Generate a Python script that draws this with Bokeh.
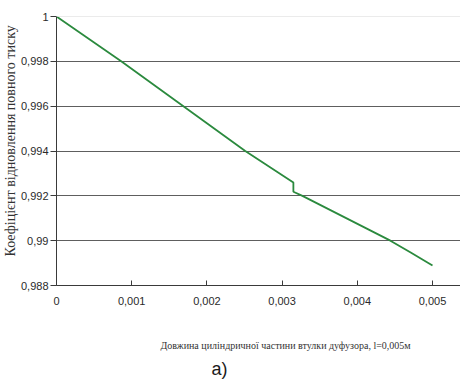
from bokeh.plotting import figure
from bokeh.models import Range1d, FixedTicker, CustomJSTickFormatter, Span, Title
from bokeh.embed import file_html
from bokeh.resources import INLINE

# Total pressure recovery coefficient along the cylindrical part of the diffuser hub
length_m = [0.0, 0.00086, 0.00251, 0.00315, 0.00315, 0.00327, 0.00444, 0.00471, 0.0050]
recovery = [1.0, 0.998, 0.994, 0.99259, 0.99218, 0.992, 0.990, 0.98947, 0.98889]

x_ticks = [0.0, 0.001, 0.002, 0.003, 0.004, 0.005]
y_ticks = [0.988, 0.990, 0.992, 0.994, 0.996, 0.998, 1.0]

x_title = "Довжина циліндричної частини втулки дуфузора, l=0,005м"
y_title = "Коефіцієнт відновлення повного тиску"
caption = "а)"

W, H = 460, 380
LEFT, TOP, BOTTOM = 56, 16, 94

p = figure(width=W, height=H, output_backend="svg", toolbar_location=None,
           x_range=Range1d(0.0, 0.0053723), y_range=Range1d(0.988, 1.0),
           min_border_left=LEFT, min_border_right=0,
           min_border_top=TOP, min_border_bottom=BOTTOM)
p.outline_line_color = None
p.background_fill_color = "white"
p.border_fill_color = "white"

fmt = CustomJSTickFormatter(code="""
    return tick.toFixed(3).replace(/0+$/, '').replace(/\\.$/, '').replace('.', ',');
""")

tick_font = "'Liberation Sans', sans-serif"

p.xaxis.ticker = FixedTicker(ticks=x_ticks)
p.xaxis.formatter = fmt
p.xaxis.major_tick_in = 5
p.xaxis.major_tick_out = 0
p.xaxis.minor_tick_line_color = None
p.xaxis.major_label_standoff = 11
p.xaxis.axis_line_color = "#3a3a3a"
p.xaxis.major_tick_line_color = "#3a3a3a"
# empty spacer label keeps room between the tick labels and the axis title
p.xaxis.axis_label = " "
p.xaxis.axis_label_standoff = 12
p.xaxis.axis_label_text_font_size = "10px"

p.yaxis.ticker = FixedTicker(ticks=y_ticks)
p.yaxis.formatter = fmt
p.yaxis.major_tick_in = 0
p.yaxis.major_tick_out = 6
p.yaxis.minor_tick_line_color = None
p.yaxis.major_label_standoff = 2
p.yaxis.axis_line_color = "#3a3a3a"
p.yaxis.major_tick_line_color = "#3a3a3a"

for ax in (p.xaxis, p.yaxis):
    ax.major_label_text_font = tick_font
    ax.major_label_text_font_size = "11px"
    ax.major_label_text_color = "#2a2a2a"

p.xgrid.grid_line_color = None
p.ygrid.ticker = FixedTicker(ticks=y_ticks[:-1])
p.ygrid.grid_line_color = "#5e5e5e"
p.ygrid.grid_line_width = 1

p.add_layout(Span(location=y_ticks[-1], dimension="width",
                  line_color="#d8d8d8", line_width=1))

p.line(length_m, recovery, line_color="#2b8a3e", line_width=1.8)

# axis titles and the panel caption
p.add_layout(Title(text=y_title, align="left", offset=29, standoff=0,
                   text_font="'Liberation Serif', serif", text_font_size="14px",
                   text_font_style="normal", text_color="#333333"), "left")
p.add_layout(Title(text=x_title, align="left", offset=104, standoff=12,
                   vertical_align="top",
                   text_font="'Liberation Serif', serif", text_font_size="10px",
                   text_font_style="normal", text_color="#333333"), "below")
p.add_layout(Title(text=caption, align="left", offset=155, standoff=0,
                   vertical_align="top", text_line_height=1.0,
                   text_font="'Liberation Sans', sans-serif", text_font_size="18px",
                   text_font_style="normal", text_color="#1a1a1a"), "below")

open("out.html", "w").write(file_html(p, INLINE))
